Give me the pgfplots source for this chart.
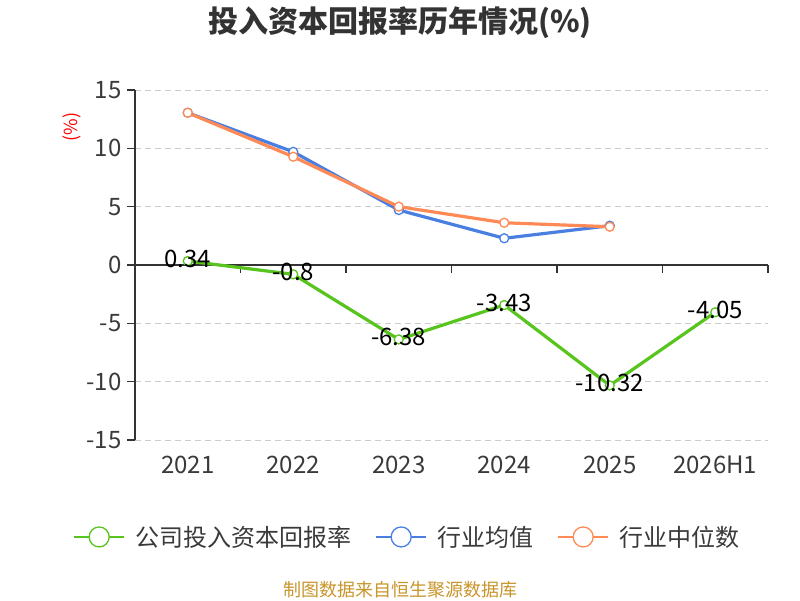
\documentclass[border=0pt]{standalone}
\usepackage{fontspec}
\setmainfont{Noto Sans CJK SC}
\usepackage{pgfplots}
\pgfplotsset{compat=1.18}
\definecolor{cgreen}{HTML}{58C41E}
\definecolor{cblue}{HTML}{4A7FE2}
\definecolor{corange}{HTML}{FF8A55}
\definecolor{cgrid}{HTML}{CCCCCC}
\definecolor{caxis}{HTML}{333333}
\definecolor{ctext}{HTML}{3A3A3A}
\definecolor{csrc}{HTML}{C8952A}
\pgfplotstableread{
x y lab
0 0.34 0.34
1 -0.8 -0.8
2 -6.38 -6.38
3 -3.43 -3.43
4 -10.32 -10.32
5 -4.05 -4.05
}\company
\pgfplotstableread{
x y
0 13.05
1 9.7
2 4.71
3 2.29
4 3.37
}\avg
\pgfplotstableread{
x y
0 13.05
1 9.28
2 5.0
3 3.62
4 3.28
}\median
\begin{document}
\begin{tikzpicture}[x=1pt,y=1pt]
\path[use as bounding box] (0,0) rectangle (800,600);
\begin{axis}[
 at={(135pt,160pt)}, anchor=south west,
 scale only axis, width=633pt, height=350pt,
 xmin=-0.5, xmax=5.5, ymin=-15, ymax=15,
 axis x line=middle, axis y line=left,
 axis line style={-, caxis, line width=1.2pt},
 xtick={-0.5,0.5,...,5.5}, xticklabels={},
 ytick={-15,-10,...,15},
 ymajorgrids, grid style={cgrid, line width=1pt, dash pattern=on 6pt off 4pt},
 tick style={caxis, line width=1.2pt},
 major tick length=8pt,
 tick align=outside,
 yticklabel style={font=\fontsize{24}{28}\selectfont, text=ctext, xshift=-2pt},
 /pgf/number format/assume math mode=true,
 clip=false,
 legend columns=3,
 legend style={at={(0.43,-0.277)}, anchor=center, draw=none, fill=none,
   font=\fontsize{24}{28}\selectfont, text=ctext,
   /tikz/every odd column/.append style={column sep=8pt},
   /tikz/every even column/.append style={column sep=22pt}},
 legend image code/.code={\draw[#1, line width=2pt, mark size=10pt, mark repeat=2, mark phase=2] plot coordinates {(0pt,0pt) (25pt,0pt) (50pt,0pt)};},
]
\addplot[cgreen, line width=3.2pt, mark=*, mark size=4.5pt,
  mark options={fill=white, draw=cgreen, line width=1.3pt},
  nodes near coords, point meta=explicit symbolic,
  every node near coord/.append style={font=\fontsize{24}{28}\selectfont, text=black, anchor=center, yshift=2pt}]
  table[x=x, y=y, meta=lab] {\company};
\addlegendentry{公司投入资本回报率}
\addplot[cblue, line width=3.2pt, mark=*, mark size=4.5pt,
  mark options={fill=white, draw=cblue, line width=1.3pt}]
  table[x=x, y=y] {\avg};
\addlegendentry{行业均值}
\addplot[corange, line width=3.2pt, mark=*, mark size=4.5pt,
  mark options={fill=white, draw=corange, line width=1.3pt}]
  table[x=x, y=y] {\median};
\addlegendentry{行业中位数}
\node[font=\fontsize{24}{28}\selectfont, text=ctext] at ([yshift=-25pt]axis cs:0,-15) {2021};
\node[font=\fontsize{24}{28}\selectfont, text=ctext] at ([yshift=-25pt]axis cs:1,-15) {2022};
\node[font=\fontsize{24}{28}\selectfont, text=ctext] at ([yshift=-25pt]axis cs:2,-15) {2023};
\node[font=\fontsize{24}{28}\selectfont, text=ctext] at ([yshift=-25pt]axis cs:3,-15) {2024};
\node[font=\fontsize{24}{28}\selectfont, text=ctext] at ([yshift=-25pt]axis cs:4,-15) {2025};
\node[font=\fontsize{24}{28}\selectfont, text=ctext] at ([yshift=-25pt]axis cs:5,-15) {2026H1};
\end{axis}
\node[font=\fontsize{30}{34}\selectfont\bfseries, text=caxis] at (400,577) {投入资本回报率历年情况(\%)};
\node[rotate=90, text=red, font=\fontsize{18}{20}\selectfont] at (72,473) {(\%)};
\node[text=csrc, font=\fontsize{18}{20}\selectfont] at (400,10) {制图数据来自恒生聚源数据库};
\end{tikzpicture}
\end{document}
